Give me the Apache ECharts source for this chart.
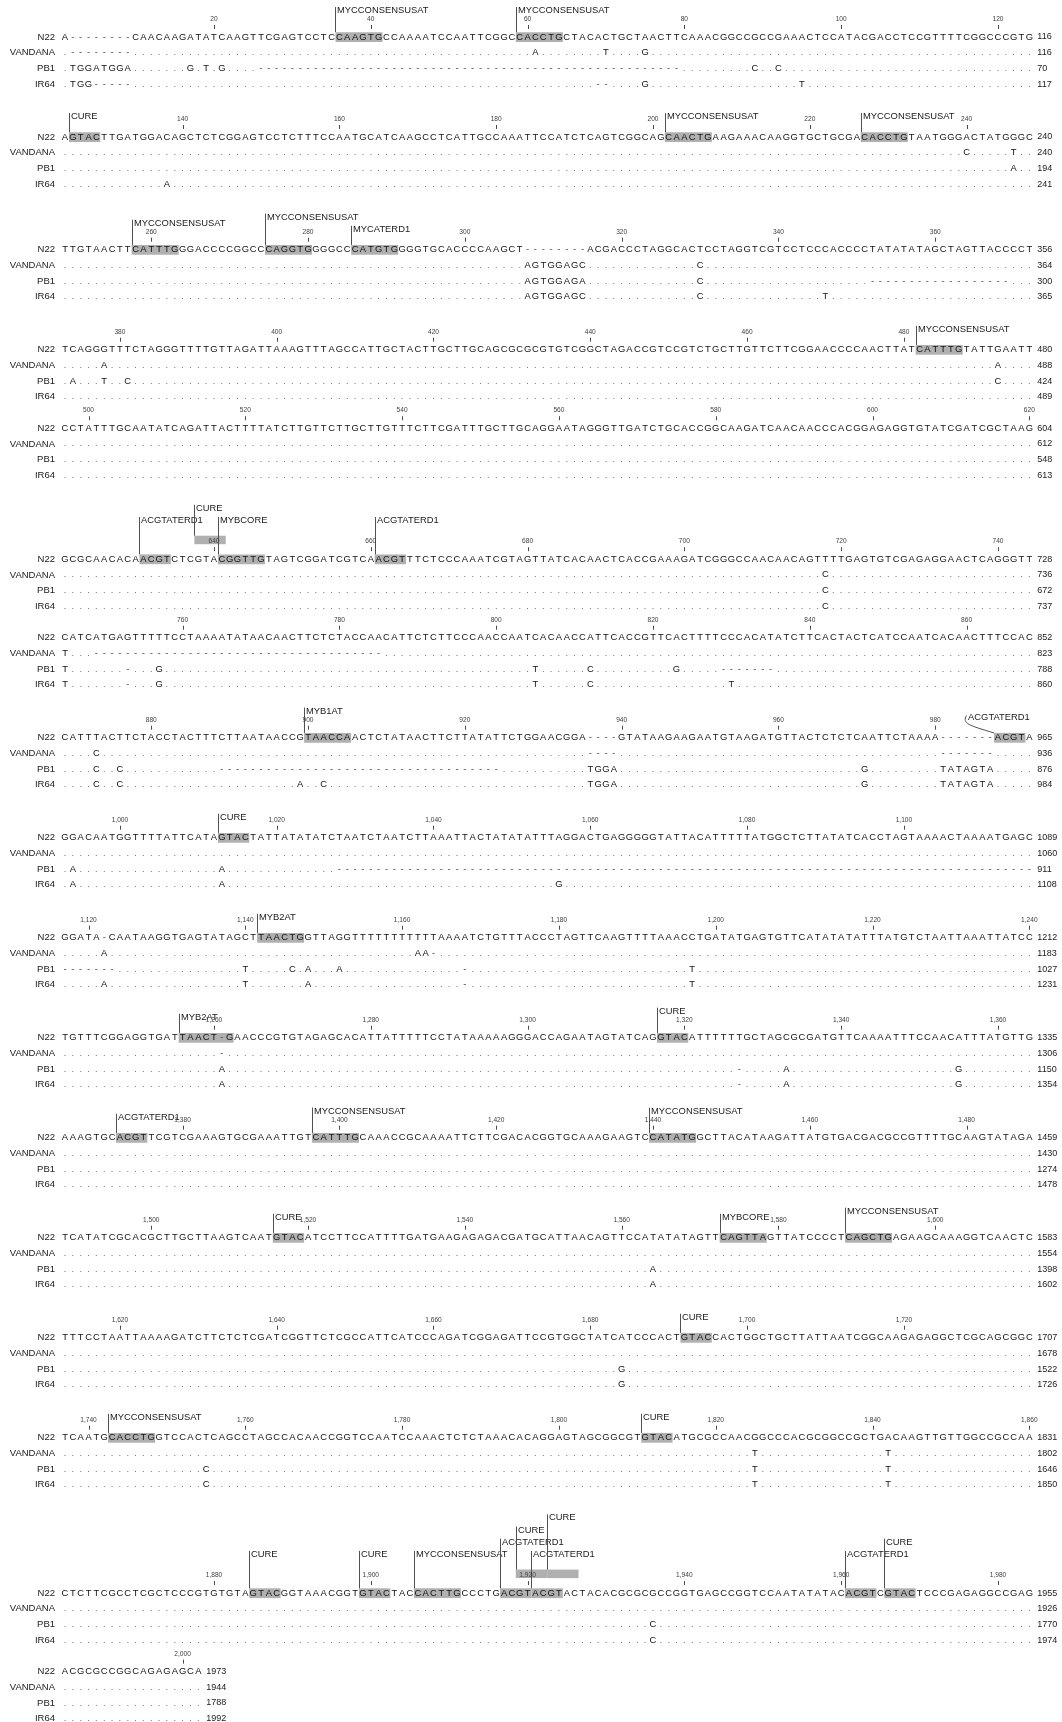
<!DOCTYPE html>
<html>
<head>
<meta charset="utf-8">
<script src="https://cdn.jsdelivr.net/npm/echarts/dist/echarts.min.js"></script>
<style>
html,body{margin:0;padding:0;background:#ffffff;}
#chart{width:1062px;height:1722px;}
</style>
</head>
<body>
<div id="chart"></div>
<script>
// ================= DATA =================
const seqNames = ['N22', 'VANDANA', 'PB1', 'IR64'];

// reference sequence (N22), one string per wrapped block of the alignment
const n22Blocks = [
  'A--------CAACAAGATATCAAGTTCGAGTCCTCCAAGTGCCAAAATCCAATTCGGCCACCTGCTACACTGCTAACTTCAAACGGCCGCCGAAACTCCATACGACCTCCGTTTTCGGCCCGTG',
  'AGTACTTGATGGACAGCTCTCGGAGTCCTCTTTCCAATGCATCAAGCCTCATTGCCAAATTCCATCTCAGTCGGCAGCAACTGAAGAAACAAGGTGCTGCGACACCTGTAATGGGACTATGGGC',
  'TTGTAACTTCATTTGGGACCCCGGCCCAGGTGGGGCCCATGTGGGGTGCACCCCAAGCT--------ACGACCCTAGGCACTCCTAGGTCGTCCTCCCACCCCTATATATAGCTAGTTACCCCT',
  'TCAGGGTTTCTAGGGTTTTGTTAGATTAAAGTTTAGCCATTGCTACTTGCTTGCAGCGCGCGTGTCGGCTAGACCGTCCGTCTGCTTGTTCTTCGGAACCCCAACTTATCATTTGTATTGAATT',
  'CCTATTTGCAATATCAGATTACTTTTATCTTGTTCTTGCTTGTTTCTTCGATTTGCTTGCAGGAATAGGGTTGATCTGCACCGGCAAGATCAACAACCCACGGAGAGGTGTATCGATCGCTAAG',
  'GCGCAACACAACGTCTCGTACGGTTGTAGTCGGATCGTCAACGTTTCTCCCAAATCGTAGTTATCACAACTCACCGAAAGATCGGGCCAACAACAGTTTTGAGTGTCGAGAGGAACTCAGGGTT',
  'CATCATGAGTTTTTCCTAAAATATAACAACTTCTCTACCAACATTCTCTTCCCAACCAATCACAACCATTCACCGTTCACTTTTCCCACATATCTTCACTACTCATCCAATCACAACTTTCCAC',
  'CATTTACTTCTACCTACTTTCTTAATAACCGTAACCAACTCTATAACTTCTTATATTCTGGAACGGA----GTATAAGAAGAATGTAAGATGTTACTCTCTCAATTCTAAAA-------ACGTA',
  'GGACAATGGTTTTATTCATAGTACTATTATATATCTAATCTAATCTTAAATTACTATATATTTAGGACTGAGGGGGTATTACATTTTTATGGCTCTTATATCACCTAGTAAAACTAAAATGAGC',
  'GGATA-CAATAAGGTGAGTATAGCTTAACTGGTTAGGTTTTTTTTTTTAAAATCTGTTTACCCTAGTTCAAGTTTTAAACCTGATATGAGTGTTCATATATATTTATGTCTAATTAAATTATCC',
  'TGTTTCGGAGGTGATTAACT-GAACCCGTGTAGAGCACATTATTTTTCCTATAAAAAGGGACCAGAATAGTATCAGGTACATTTTTTGCTAGCGCGATGTTCAAAATTTCCAACATTTATGTTG',
  'AAAGTGCACGTTCGTCGAAAGTGCGAAATTGTCATTTGCAAACCGCAAAATTCTTCGACACGGTGCAAAGAAGTCCATATGGCTTACATAAGATTATGTGACGACGCCGTTTTGCAAGTATAGA',
  'TCATATCGCACGCTTGCTTAAGTCAATGTACATCCTTCCATTTTGATGAAGAGAGACGATGCATTAACAGTTCCATATATAGTTCAGTTAGTTATCCCCTCAGCTGAGAAGCAAAGGTCAACTC',
  'TTTCCTAATTAAAAGATCTTCTCTCGATCGGTTCTCGCCATTCATCCCAGATCGGAGATTCCGTGGCTATCATCCCACTGTACCACTGGCTGCTTATTAATCGGCAAGAGAGGCTCGCAGCGGC',
  'TCAATGCACCTGGTCCACTCAGCCTAGCCACAACCGGTCCAATCCAAACTCTCTAAACACAGGAGTAGCGGCGTGTACATGCGCCAACGGCCCACGCGGCCGCTGACAAGTTGTTGGCCGCCAA',
  'CTCTTCGCCTCGCTCCCGTGTGTAGTACGGTAAACGGTGTACTACCACTTGCCCTGACGTACGTACTACACGCGCGCCGGTGAGCCGGTCCAATATATACACGTCGTACTCCCGAGAGGCCGAG',
  'ACGCGCCGGCAGAGAGCA'
];

// differences from N22 per block: "col:text" (letters placed from col) or "a-b:-" (gap run); all other cells identical (.)
const vandanaDiffs = [
  '2-9:- 61:A 70:T 75:G', '116:C 122:T', '60:AGTGGAGC 82:C', '6:A 120:A', '', '98:C',
  '1:T 5-41:-', '5:C 68-71:- 113-119:-', '', '6:A 46:AA 48:-', '21:-', '', '', '',
  '89:T 106:T', '', ''
];
const pb1Diffs = [
  '2:TGGATGGA 17:G 19:T 21:G 26-79:- 89:C 92:C', '122:A', '60:AGTGGAGA 82:C 104-121:-',
  '2:A 6:T 9:C 120:C', '', '98:C', '1:T 9:- 13:G 61:T 68:C 79:G 85-91:-',
  '5:C 8:C 21-56:- 68:TGGA 103:G 113:TATAGTA', '2:A 21:A 36-124:-',
  '1-7:- 24:T 30:C 32:A 36:A 52:- 81:T', '21:A 87:- 93:A 115:G', '', '76:A', '72:G',
  '19:C 89:T 106:T', '76:C', ''
];
const ir64Diffs = [
  '2:TGG 5-9:- 69-70:- 75:G 95:T', '14:A', '60:AGTGGAGC 82:C 98:T', '', '', '98:C',
  '1:T 9:- 13:G 61:T 68:C 86:T', '5:C 8:C 31:A 34:C 68:TGGA 103:G 113:TATAGTA',
  '2:A 21:A 64:G', '6:A 24:T 32:A 52:- 81:T', '21:A 87:- 93:A 115:G', '', '76:A', '72:G',
  '19:C 89:T 106:T', '76:C', ''
];

// residue count at the end of each block line
const n22Ends     = [116, 240, 356, 480, 604, 728, 852, 965, 1089, 1212, 1335, 1459, 1583, 1707, 1831, 1955, 1973];
const vandanaEnds = [116, 240, 364, 488, 612, 736, 823, 936, 1060, 1183, 1306, 1430, 1554, 1678, 1802, 1926, 1944];
const pb1Ends     = [70, 194, 300, 424, 548, 672, 788, 876, 911, 1027, 1150, 1274, 1398, 1522, 1646, 1770, 1788];
const ir64Ends    = [117, 241, 365, 489, 613, 737, 860, 984, 1108, 1231, 1354, 1478, 1602, 1726, 1850, 1974, 1992];

// motif annotations: [block, firstCol, lastCol, name, labelTier, kind]
// kind: 'seq' = highlighted on N22, 'bar' = drawn in an overlap track, 'gapped' = spans N22 gap cells
const annotations = [
  [1, 36, 41, 'MYCCONSENSUSAT', 1, 'seq'],
  [1, 59, 64, 'MYCCONSENSUSAT', 1, 'seq'],
  [2, 2, 5, 'CURE', 0, 'seq'],
  [2, 78, 83, 'MYCCONSENSUSAT', 0, 'seq'],
  [2, 103, 108, 'MYCCONSENSUSAT', 0, 'seq'],
  [3, 10, 15, 'MYCCONSENSUSAT', 1, 'seq'],
  [3, 27, 32, 'MYCCONSENSUSAT', 2, 'seq'],
  [3, 38, 43, 'MYCATERD1', 0, 'seq'],
  [4, 110, 115, 'MYCCONSENSUSAT', 0, 'seq'],
  [6, 11, 14, 'ACGTATERD1', 3, 'seq'],
  [6, 18, 21, 'CURE', 5, 'bar'],
  [6, 21, 26, 'MYBCORE', 3, 'seq'],
  [6, 41, 44, 'ACGTATERD1', 3, 'seq'],
  [8, 32, 37, 'MYB1AT', 1, 'seq'],
  [8, 116, 123, 'ACGTATERD1', 0, 'gapped'],
  [9, 21, 24, 'CURE', 0, 'seq'],
  [10, 26, 31, 'MYB2AT', 0, 'seq'],
  [11, 16, 22, 'MYB2AT', 0, 'seq'],
  [11, 77, 80, 'CURE', 1, 'seq'],
  [12, 8, 11, 'ACGTATERD1', 0, 'seq'],
  [12, 33, 38, 'MYCCONSENSUSAT', 1, 'seq'],
  [12, 76, 81, 'MYCCONSENSUSAT', 1, 'seq'],
  [13, 28, 31, 'CURE', 0, 'seq'],
  [13, 85, 90, 'MYBCORE', 0, 'seq'],
  [13, 101, 106, 'MYCCONSENSUSAT', 1, 'seq'],
  [14, 80, 83, 'CURE', 0, 'seq'],
  [15, 7, 12, 'MYCCONSENSUSAT', 0, 'seq'],
  [15, 75, 78, 'CURE', 0, 'seq'],
  [16, 25, 28, 'CURE', 3, 'seq'],
  [16, 39, 42, 'CURE', 3, 'seq'],
  [16, 46, 51, 'MYCCONSENSUSAT', 3, 'seq'],
  [16, 57, 60, 'ACGTATERD1', 5, 'seq'],
  [16, 59, 62, 'CURE', 7, 'bar'],
  [16, 61, 64, 'ACGTATERD1', 3, 'seq'],
  [16, 63, 66, 'CURE', 9, 'bar'],
  [16, 101, 104, 'ACGTATERD1', 3, 'seq'],
  [16, 106, 109, 'CURE', 5, 'seq']
];

const RULER_STEP = 20;
const BLOCK_COLS = 124;

// ================= LAYOUT / STYLE =================
const W = 1062, H = 1722;
const COL_PX = 7.84, COL1_X = 65, ROW_PX = 15.7, FIRST_Y = 37;
const RULER_GAP = 31.4;
const LABEL_BASE = -20.3, TIER_PX = 6.1;
const HL_UP = 4.8, HL_DOWN = 5;
const BAR_TOP = -23.5, BAR_BOT = -15;
const RULER_DY = -17.8, TICK_TOP = -12, TICK_BOT = -8;
const NAME_RIGHT_X = 55, END_OFFSET = 1.4;
const FF = '"Liberation Sans", Arial, Helvetica, sans-serif';
const SEQ_FONT = '9.4px ' + FF, LABEL_FONT = '9.4px ' + FF, NAME_FONT = '9.5px ' + FF,
      END_FONT = '9px ' + FF, RULER_FONT = '6.6px ' + FF;
const SEQ_COLOR = '#111111', DOT_COLOR = '#6e6e6e', GAP_COLOR = '#444444', NAME_COLOR = '#1a1a1a',
      END_COLOR = '#1a1a1a', RULER_COLOR = '#404040', TICK_COLOR = '#4a4a4a',
      HL_COLOR = '#b0b0b0', BAR_COLOR = '#b0b0b0', LINE_COLOR = '#505050', LABEL_COLOR = '#1a1a1a';

const xMin = 1 - COL1_X / COL_PX;
const xMax = 1 + (W - COL1_X) / COL_PX;
const nameCol = 1 + (NAME_RIGHT_X - COL1_X) / COL_PX;

// ================= DERIVED =================
function expandRow(ref, spec) {
  const arr = Array.from(ref, () => '.');
  spec.split(/\s+/).filter(Boolean).forEach(tok => {
    const idx = tok.indexOf(':');
    const pos = tok.slice(0, idx), txt = tok.slice(idx + 1);
    if (pos.indexOf('-') >= 0) {
      const [a, b] = pos.split('-').map(Number);
      for (let c = a; c <= b; c++) arr[c - 1] = txt;
    } else {
      const p = Number(pos);
      for (let k = 0; k < txt.length; k++) arr[p - 1 + k] = txt[k];
    }
  });
  return arr.slice(0, ref.length).join('');
}
const rowText = [
  n22Blocks,
  vandanaDiffs.map((s, i) => expandRow(n22Blocks[i], s)),
  pb1Diffs.map((s, i) => expandRow(n22Blocks[i], s)),
  ir64Diffs.map((s, i) => expandRow(n22Blocks[i], s))
];
const rowEnds = [n22Ends, vandanaEnds, pb1Ends, ir64Ends];

const maxTier = n22Blocks.map((_, i) => {
  let m = -1;
  annotations.forEach(a => { if (a[0] === i + 1) m = Math.max(m, a[4]); });
  return m;
});
function tierSpace(L) { return L < 0 ? 0 : (L <= 1 ? 21.5 : 22 + 6.1 * L); }
const blockY = [];
n22Blocks.forEach((_, i) => {
  blockY.push(i === 0 ? FIRST_Y : blockY[i - 1] + 3 * ROW_PX + RULER_GAP + tierSpace(maxTier[i]));
});

function fmt(n) { return String(n).replace(/\B(?=(\d{3})+(?!\d))/g, ','); }
function textEl(t, x, y, font, fill, align) {
  return { type: 'text', silent: true, style: { text: t, x: x, y: y, font: font, fill: fill,
    align: align, verticalAlign: 'middle', textAlign: align, textVerticalAlign: 'middle' } };
}

// rows
const rowItems = [];
n22Blocks.forEach((_, b) => { for (let r = 0; r < 4; r++) rowItems.push([b, r]); });
function renderRow(params, api) {
  const [b, r] = rowItems[params.dataIndex];
  const txt = rowText[r][b];
  const yv = blockY[b] + r * ROW_PX;
  const py = api.coord([1, yv])[1];
  const kids = [textEl(seqNames[r], api.coord([nameCol, yv])[0], py, NAME_FONT, NAME_COLOR, 'right')];
  for (let i = 0; i < txt.length; i++) {
    const c = txt[i];
    const px = api.coord([i + 1, yv])[0];
    const fill = c === '.' ? DOT_COLOR : (c === '-' ? GAP_COLOR : SEQ_COLOR);
    kids.push(textEl(c, px, py, SEQ_FONT, fill, 'center'));
  }
  kids.push(textEl(String(rowEnds[r][b]), api.coord([txt.length + END_OFFSET, yv])[0] - 3, py, END_FONT, END_COLOR, 'left'));
  return { type: 'group', children: kids };
}

// ruler
const rulerItems = [];
n22Blocks.forEach((s, b) => {
  for (let c = 1; c <= s.length; c++) {
    const g = b * BLOCK_COLS + c;
    if (g % RULER_STEP === 0) rulerItems.push([b, c, g]);
  }
});
function renderRuler(params, api) {
  const [b, c, g] = rulerItems[params.dataIndex];
  const x = api.coord([c, blockY[b]])[0];
  const yl = api.coord([c, blockY[b] + RULER_DY])[1];
  const t1 = api.coord([c, blockY[b] + TICK_TOP])[1];
  const t2 = api.coord([c, blockY[b] + TICK_BOT])[1];
  const lx = Math.round(x) + 0.5;
  return { type: 'group', children: [
    textEl(fmt(g), x, yl, RULER_FONT, RULER_COLOR, 'center'),
    { type: 'line', silent: true, shape: { x1: lx, y1: t1, x2: lx, y2: t2 }, style: { stroke: TICK_COLOR, lineWidth: 1 } }
  ] };
}

// annotations
function renderAnn(params, api) {
  const [blk, s, e, name, tier, kind] = annotations[params.dataIndex];
  const b = blk - 1;
  const yb = blockY[b];
  const xp = c => api.coord([c, yb])[0];
  const yp = v => api.coord([s, v])[1];
  const nY = yp(yb);
  const labY = yp(yb + LABEL_BASE - TIER_PX * tier);
  const labTop = labY - 3.6;
  const kids = [];
  let lineX = Math.round(xp(s - 0.5)) + 0.5;
  let labX = lineX + 1.5;
  if (kind === 'seq') {
    kids.push({ type: 'rect', silent: true, shape: { x: xp(s - 0.5), y: nY - HL_UP, width: xp(e + 0.5) - xp(s - 0.5), height: HL_UP + HL_DOWN }, style: { fill: HL_COLOR } });
    kids.push({ type: 'line', silent: true, shape: { x1: lineX, y1: nY - HL_UP, x2: lineX, y2: labTop }, style: { stroke: LINE_COLOR, lineWidth: 1 } });
  } else if (kind === 'bar') {
    const t = yp(yb + BAR_TOP), bt = yp(yb + BAR_BOT);
    kids.push({ type: 'rect', silent: true, shape: { x: xp(s - 0.5), y: t, width: xp(e + 0.5) - xp(s - 0.5), height: bt - t }, style: { fill: BAR_COLOR } });
    kids.push({ type: 'line', silent: true, shape: { x1: lineX, y1: t, x2: lineX, y2: labTop }, style: { stroke: LINE_COLOR, lineWidth: 1 } });
  } else {
    const ref = n22Blocks[b];
    let f = s;
    while (f <= e && ref[f - 1] === '-') f++;
    kids.push({ type: 'rect', silent: true, shape: { x: xp(f - 0.5), y: nY - HL_UP, width: xp(e + 0.5) - xp(f - 0.5), height: HL_UP + HL_DOWN }, style: { fill: HL_COLOR } });
    const x0 = xp(s), x3 = xp(f - 0.5);
    kids.push({ type: 'bezierCurve', silent: true, shape: { x1: x0, y1: labY - 2, cpx1: x0 - 5, cpy1: labY + 6, cpx2: x0 + 3, cpy2: nY - 12, x2: x3, y2: nY - HL_UP },
      style: { stroke: LINE_COLOR, lineWidth: 1, fill: null } });
    labX = x0 + 1.5;
  }
  kids.push(textEl(name, labX, labY, LABEL_FONT, LABEL_COLOR, 'left'));
  return { type: 'group', children: kids };
}

// ================= CHART =================
const chart = echarts.init(document.getElementById('chart'), null, { renderer: 'canvas', width: W, height: H });
chart.setOption({
  animation: false,
  backgroundColor: '#ffffff',
  grid: { left: 0, right: 0, top: 0, bottom: 0 },
  xAxis: { type: 'value', min: xMin, max: xMax, show: false },
  yAxis: { type: 'value', min: 0, max: H, inverse: true, show: false },
  series: [
    { type: 'custom', name: 'annotations', silent: true, clip: false, renderItem: renderAnn,
      data: annotations.map(a => [a[1], blockY[a[0] - 1]]) },
    { type: 'custom', name: 'sequences', silent: true, clip: false, renderItem: renderRow,
      data: rowItems.map(([b, r]) => [1, blockY[b] + r * ROW_PX]) },
    { type: 'custom', name: 'ruler', silent: true, clip: false, renderItem: renderRuler,
      data: rulerItems.map(([b, c]) => [c, blockY[b]]) }
  ]
});
</script>
</body>
</html>
